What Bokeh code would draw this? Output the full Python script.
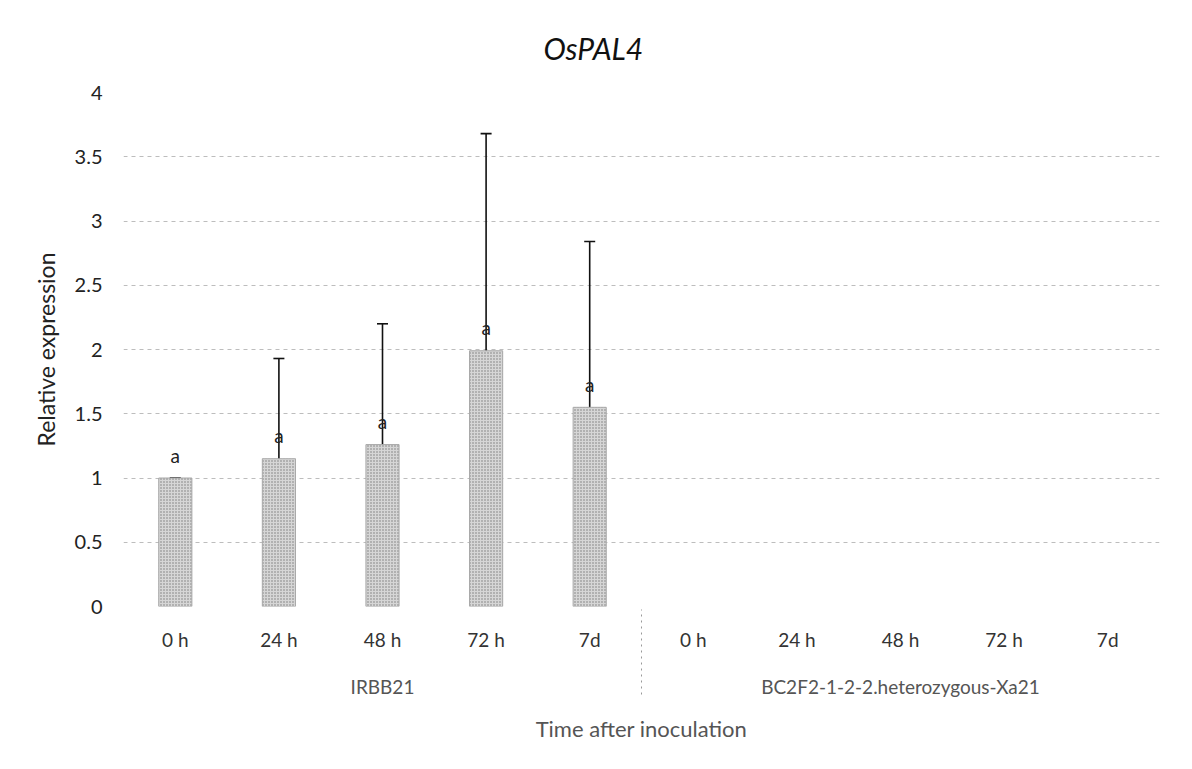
from bokeh.plotting import figure
from bokeh.models import FactorRange, ColumnDataSource, Whisker, FixedTicker, TeeHead
from bokeh.core.properties import value
from bokeh.embed import file_html
from bokeh.resources import INLINE

groups = ["IRBB21", "BC2F2-1-2-2.heterozygous-Xa21"]
times = ["0 h", "24 h", "48 h", "72 h", "7d"]
irbb21_mean = [1.0, 1.15, 1.26, 1.99, 1.55]
irbb21_err = [0.0, 0.78, 0.94, 1.69, 1.29]
letters = ["a", "a", "a", "a", "a"]
y_ticks = [0, 0.5, 1, 1.5, 2, 2.5, 3, 3.5, 4]

FONT = "Lato"
factors = [(g, t) for g in groups for t in times]
xr = FactorRange(*factors, factor_padding=0, group_padding=0, range_padding=0)

p = figure(x_range=xr, y_range=(0, 4), width=1176, height=750,
           output_backend="svg", toolbar_location=None,
           min_border_left=123, min_border_right=17, min_border_top=92, min_border_bottom=144)
p.outline_line_color = None

# title
p.title.text = "OsPAL4"
p.title.align = "left"
p.title.offset = 420
p.title.standoff = 53
p.title.text_font = FONT
p.title.text_font_size = "30px"
p.title.text_font_style = "italic"
p.title.text_color = "#111111"

src = ColumnDataSource(dict(
    x=[(groups[0], t) for t in times],
    top=irbb21_mean,
    upper=[m + e for m, e in zip(irbb21_mean, irbb21_err)],
    lower=[m - e for m, e in zip(irbb21_mean, irbb21_err)],
    txt=letters,
))

p.vbar(x="x", top="top", width=0.32, source=src, fill_color="#d6d6d6",
       line_color="#a8a8a8", line_width=1, hatch_pattern="dot",
       hatch_color="#7a7a7a", hatch_scale=3, hatch_weight=1)

w = Whisker(base="x", upper="upper", lower="lower", source=src,
            line_color="#111111", line_width=1.6,
            upper_head=TeeHead(size=11, line_color="#111111", line_width=1.6),
            lower_head=TeeHead(size=11, line_color="#777777", line_width=1.2))
p.add_layout(w)

p.text(x="x", y="top", text="txt", source=src, y_offset=-23,
       text_align="center", text_baseline="middle", text_font_size="19px",
       text_font=value(FONT), text_color="#222222")

# y axis
p.yaxis.ticker = FixedTicker(ticks=y_ticks)
p.yaxis.axis_line_color = None
p.yaxis.major_tick_line_color = None
p.yaxis.minor_tick_line_color = None
p.yaxis.major_tick_out = 0
p.yaxis.major_label_standoff = 21
p.yaxis.major_label_text_font = FONT
p.yaxis.major_label_text_font_size = "20px"
p.yaxis.major_label_text_color = "#222222"
p.yaxis.axis_label = "Relative expression"
p.yaxis.axis_label_text_font = FONT
p.yaxis.axis_label_text_font_size = "23px"
p.yaxis.axis_label_text_font_style = "normal"
p.yaxis.axis_label_text_color = "#222222"
p.yaxis.axis_label_standoff = 12

# x axis (time factors, group names, axis title)
p.xaxis.axis_line_color = None
p.xaxis.major_tick_line_color = None
p.xaxis.major_tick_out = 0
p.xaxis.major_label_standoff = 21
p.xaxis.major_label_text_font = FONT
p.xaxis.major_label_text_font_size = "19px"
p.xaxis.major_label_text_color = "#333333"
p.xaxis.group_text_font = FONT
p.xaxis.group_text_font_size = "19px"
p.xaxis.group_text_font_style = "normal"
p.xaxis.group_text_color = "#555555"
p.xaxis.separator_line_color = "#999999"
p.xaxis.separator_line_dash = "dotted"
p.xaxis.separator_line_width = 1
p.xaxis.axis_label = "Time after inoculation"
p.xaxis.axis_label_text_font = FONT
p.xaxis.axis_label_text_font_size = "22px"
p.xaxis.axis_label_text_font_style = "normal"
p.xaxis.axis_label_text_color = "#555555"
p.xaxis.axis_label_standoff = 14

p.xgrid.grid_line_color = None
p.ygrid.grid_line_color = "#bdbdbd"
p.ygrid.grid_line_dash = "4 4"
p.ygrid.grid_line_width = 1

open("out.html", "w").write(file_html(p, INLINE))
